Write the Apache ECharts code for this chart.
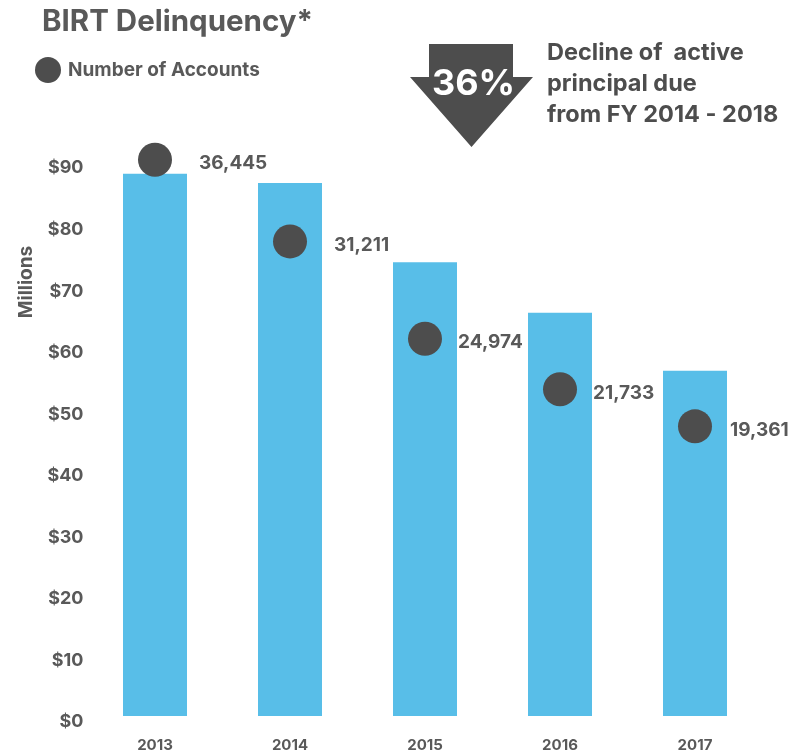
<!DOCTYPE html>
<html>
<head>
<meta charset="utf-8">
<script src="https://cdn.jsdelivr.net/npm/echarts@6/dist/echarts.min.js"></script>
<style>html,body{margin:0;padding:0;background:#fff}#c{width:791px;height:756px}</style>
</head>
<body>
<div id="c"></div>
<script>
const years = ['2013', '2014', '2015', '2016', '2017'];
const principalMillions = [88.1, 86.6, 73.7, 65.5, 56.1];
const accounts = [36445, 31211, 24974, 21733, 19361];
const yTickLabels = ['$0','$10','$20','$30','$40','$50','$60','$70','$80','$90'];
const titleText = 'BIRT Delinquency*';
const legendName = 'Number of Accounts';
const axisName = 'Millions';
const declinePct = '36%';
const declineNote = 'Decline of  active\nprincipal due\nfrom FY 2014 - 2018';

const FONT = 'Inter, "Open Sans", sans-serif';
const GREY = '#595959';
const labelShift = [14, 14, 3, 3, 5];

const chart = echarts.init(document.getElementById('c'));
chart.setOption({
  animation: false,
  textStyle: { fontFamily: FONT },
  title: {
    text: titleText, left: 37, top: 2,
    textStyle: { fontFamily: FONT, fontWeight: 'bold', fontSize: 29.5, color: GREY }
  },
  legend: {
    data: [{ name: legendName, icon: 'circle' }],
    left: 35, top: 57, padding: 0, itemWidth: 26, itemHeight: 26,
    textStyle: { fontFamily: FONT, fontWeight: 'bold', fontSize: 19, color: GREY, padding: [0,0,0,2] }
  },
  grid: { left: 87.5, right: 28.5, top: 162, bottom: 40 },
  xAxis: {
    type: 'category', data: years,
    axisLine: { show: false }, axisTick: { show: false },
    axisLabel: { margin: 22, fontFamily: FONT, fontWeight: 'bold', fontSize: 15, color: GREY }
  },
  yAxis: [{
    type: 'value', min: 0, max: 90, interval: 10,
    splitLine: { show: false }, axisLine: { show: false }, axisTick: { show: false },
    axisLabel: {
      margin: 4, fontFamily: FONT, fontWeight: 'bold', fontSize: 18, color: GREY,
      verticalAlign: 'top', lineHeight: 12,
      formatter: (v) => yTickLabels[Math.round(v / 10)]
    }
  }, {
    type: 'value', min: 800, max: 36300, show: false, splitLine: { show: false }
  }],
  series: [{
    type: 'bar', data: principalMillions, barWidth: 64,
    itemStyle: { color: '#58bee8' }, z: 1
  }, {
    name: legendName, type: 'scatter', yAxisIndex: 1, clip: false,
    symbol: 'circle', symbolSize: 34,
    itemStyle: { color: '#4d4d4d', opacity: 1 }, z: 3,
    data: accounts.map((v, i) => ({
      value: v,
      label: { offset: [labelShift[i], 4] }
    })),
    label: {
      show: true, position: 'right', distance: 13,
      fontFamily: FONT, fontWeight: 'bold', fontSize: 19, color: GREY,
      formatter: (p) => p.value.toLocaleString('en-US')
    }
  }],
  graphic: [{
    type: 'text', x: 26, y: 282, rotation: Math.PI / 2, z: 5,
    style: { text: axisName, fill: GREY, font: 'bold 19px Inter, "Open Sans", sans-serif',
             align: 'center', verticalAlign: 'middle' }
  }, {
    type: 'polygon', z: 10,
    shape: { points: [[429,44],[513,44],[513,77],[533,77],[471.5,147],[410,77],[429,77]] },
    style: { fill: '#4d4d4d' }
  }, {
    type: 'text', z: 11, left: 432, top: 66,
    style: { text: declinePct, fill: '#ffffff', font: 'bold 36px Inter, "Open Sans", sans-serif' }
  }, {
    type: 'text', z: 11, left: 547, top: 37,
    style: { text: declineNote, fill: '#4d4d4d', font: 'bold 23.5px Inter, "Open Sans", sans-serif', lineHeight: 31 }
  }]
});
</script>
</body>
</html>
